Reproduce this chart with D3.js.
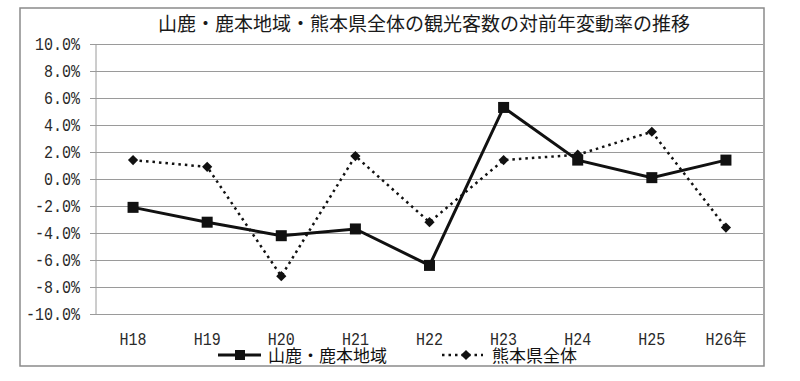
<!DOCTYPE html>
<html><head><meta charset="utf-8">
<script src="https://cdn.jsdelivr.net/npm/d3@7"></script>
<style>body{margin:0;background:#fff}svg{display:block}</style>
</head><body><svg id="c" width="800" height="381"></svg>
<script>
const categories = ["H18","H19","H20","H21","H22","H23","H24","H25","H26年"];
const seriesNames = ["山鹿・鹿本地域","熊本県全体"];
const yamaga = [-2.1,-3.2,-4.2,-3.7,-6.4,5.3,1.4,0.1,1.4];
const kumamoto = [1.4,0.9,-7.2,1.7,-3.2,1.4,1.8,3.5,-3.6];
const yTicks = [-10,-8,-6,-4,-2,0,2,4,6,8,10];
const title = "山鹿・鹿本地域・熊本県全体の観光客数の対前年変動率の推移";

const svg = d3.select("#c");
const L=96,R=763,T=44,B=314;
const x = d3.scaleBand().domain(categories).range([L,R]);
const y = d3.scaleLinear().domain([-10,10]).range([B,T]);
const numFont = "'Liberation Mono', monospace";
const cjk = "'Noto Sans CJK JP', sans-serif";
const SY = 1.25;

// outer border
svg.append("rect").attr("x",20).attr("y",8).attr("width",744).attr("height",358)
  .attr("fill","#fff").attr("stroke","#8a8a8a").attr("stroke-width",1.5);

// title
svg.append("text").attr("x",424).attr("y",31).attr("text-anchor","middle")
  .attr("font-family",cjk).attr("font-size",19).attr("fill","#1a1a1a").text(title);

// y axis with gridlines
const yAxis = d3.axisLeft(y).tickValues(yTicks).tickSize(-(R-L)).tickPadding(12)
  .tickFormat(d=>d.toFixed(1)+"%");
const gy = svg.append("g").attr("transform",`translate(${L},0)`).call(yAxis);
gy.select(".domain").remove();
gy.selectAll(".tick line").attr("stroke","#9a9a9a").attr("stroke-width",1)
  .attr("x1",-6);
gy.selectAll(".tick text").attr("font-family",numFont).attr("font-size",15)
  .attr("fill","#2a2a2a").attr("x",-16).attr("dy",null).attr("y",5/SY)
  .attr("transform",`scale(1,${SY})`);
svg.append("line").attr("x1",L).attr("x2",L).attr("y1",T).attr("y2",B)
  .attr("stroke","#9a9a9a").attr("stroke-width",1);

// x axis labels
const xAxis = d3.axisBottom(x).tickSize(0).tickPadding(0);
const gx = svg.append("g").attr("transform",`translate(0,${B})`).call(xAxis);
gx.select(".domain").remove();
gx.selectAll(".tick text").attr("font-family",numFont).attr("font-size",15)
  .attr("fill","#2a2a2a").attr("dy",null).attr("y",31/SY)
  .attr("transform",`scale(1,${SY})`);
gx.selectAll(".tick text").filter(d=>d.endsWith("年"))
  .text("").call(t=>{
    t.append("tspan").attr("font-family",numFont).text("H26");
    t.append("tspan").attr("font-family",cjk).attr("font-size",14).text("年");
  });

const cx = d=>x(d)+x.bandwidth()/2;
const line = d3.line().x((v,i)=>cx(categories[i])).y(v=>y(v));

// kumamoto dotted
svg.append("path").datum(kumamoto).attr("d",line).attr("fill","none")
  .attr("stroke","#111").attr("stroke-width",2.5).attr("stroke-dasharray","2.5,4");
const diamond = d3.symbol().type(d3.symbolSquare).size(52);
svg.selectAll(".dm").data(kumamoto).join("path")
  .attr("d",diamond).attr("transform",(v,i)=>`translate(${cx(categories[i])},${y(v)}) rotate(45)`)
  .attr("fill","#111");

// yamaga solid
svg.append("path").datum(yamaga).attr("d",line).attr("fill","none")
  .attr("stroke","#111").attr("stroke-width",3);
svg.selectAll(".sq").data(yamaga).join("rect")
  .attr("x",(v,i)=>cx(categories[i])-5.5).attr("y",v=>y(v)-5.5)
  .attr("width",11).attr("height",11).attr("fill","#111");

// legend
const lg = svg.append("g");
lg.append("line").attr("x1",218).attr("x2",261).attr("y1",355).attr("y2",355)
  .attr("stroke","#111").attr("stroke-width",3);
lg.append("rect").attr("x",235).attr("y",350).attr("width",10).attr("height",10).attr("fill","#111");
lg.append("text").attr("x",268).attr("y",362).attr("font-family",cjk).attr("font-size",17)
  .attr("fill","#111").text(seriesNames[0]);
lg.append("line").attr("x1",442).attr("x2",483).attr("y1",355).attr("y2",355)
  .attr("stroke","#111").attr("stroke-width",2.5).attr("stroke-dasharray","2.5,4");
lg.append("path").attr("d",diamond).attr("transform","translate(466,355) rotate(45)").attr("fill","#111");
lg.append("text").attr("x",492).attr("y",362).attr("font-family",cjk).attr("font-size",17)
  .attr("fill","#111").text(seriesNames[1]);
</script></body></html>
